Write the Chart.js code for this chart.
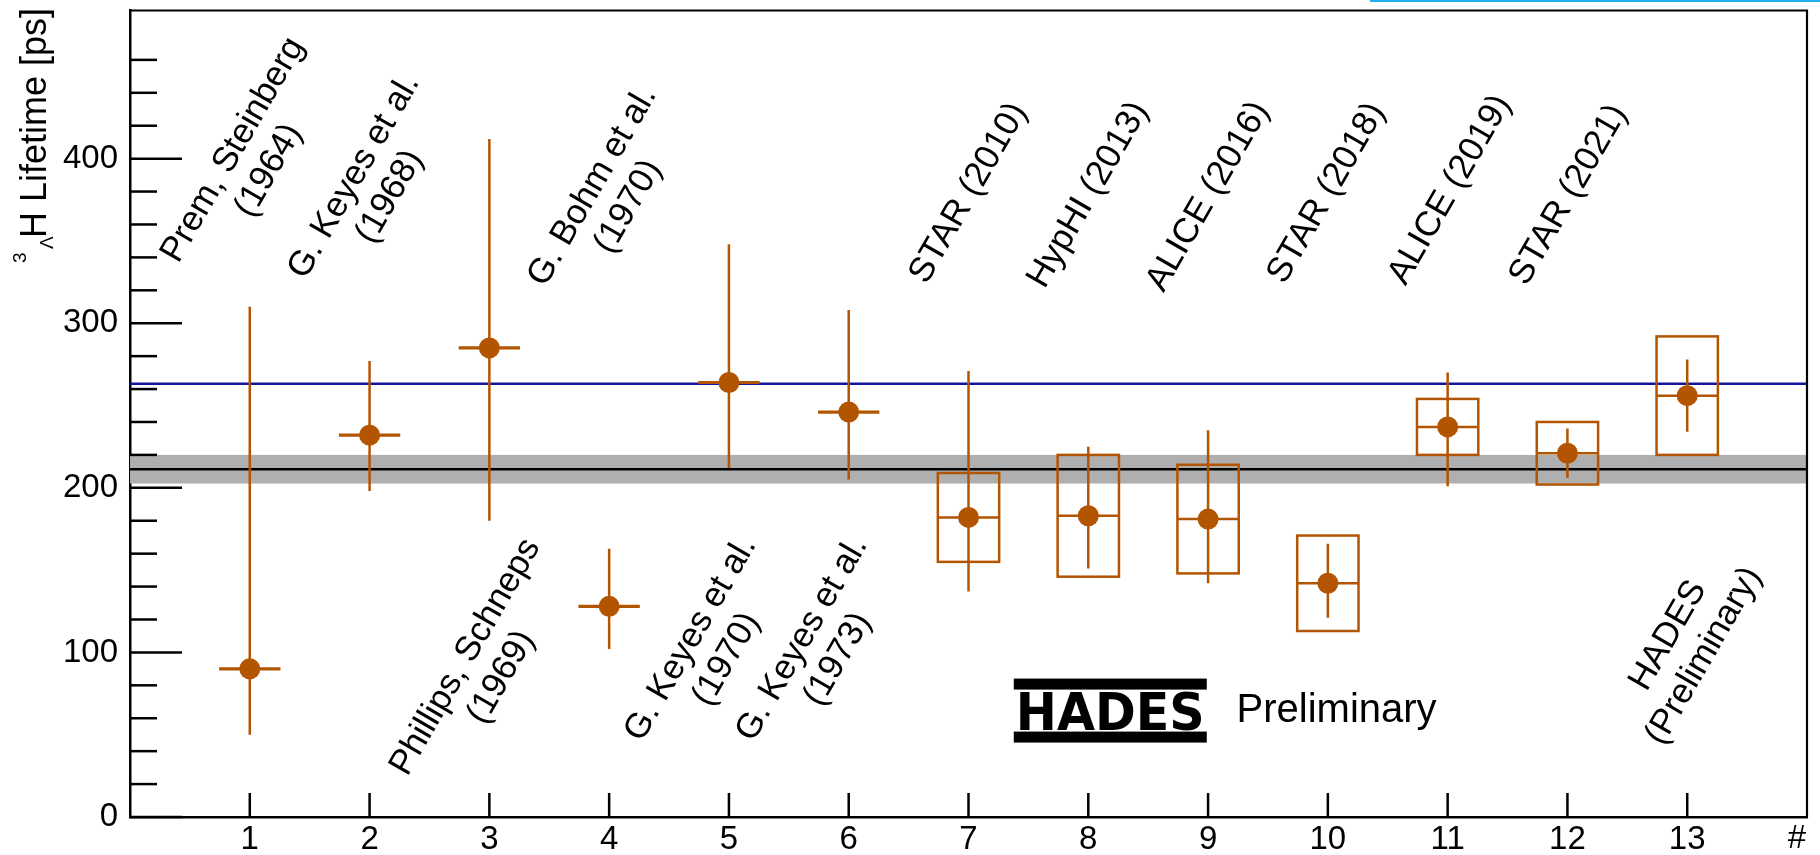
<!DOCTYPE html>
<html>
<head>
<meta charset="utf-8">
<title>Hypertriton lifetime measurements</title>
<script src="https://cdn.jsdelivr.net/npm/chart.js@4.4.1/dist/chart.umd.min.js"></script>
<style>
  html, body { margin: 0; padding: 0; background: #ffffff; }
  #wrap { width: 1820px; height: 855px; position: relative; }
  canvas { display: block; }
</style>
</head>
<body>
<div id="wrap"><canvas id="lifetimes" width="1820" height="855"></canvas></div>
<script>
// ---- measurements (ps) ----
const measurementIndex = [1, 2, 3, 4, 5, 6, 7, 8, 9, 10, 11, 12, 13];
const experiments = [
  ["Prem, Steinberg", "(1964)"],
  ["G. Keyes et al.", "(1968)"],
  ["Phillips, Schneps", "(1969)"],
  ["G. Bohm et al.", "(1970)"],
  ["G. Keyes et al.", "(1970)"],
  ["G. Keyes et al.", "(1973)"],
  ["STAR (2010)"],
  ["HypHI (2013)"],
  ["ALICE (2016)"],
  ["STAR (2018)"],
  ["ALICE (2019)"],
  ["STAR (2021)"],
  ["HADES", "(Preliminary)"]
];
const lifetime  = [90, 232, 285, 128, 264, 246, 182, 183, 181, 142, 237, 221, 256];
const statUp    = [220, 45, 127, 35, 84, 62, 89, 42, 54, 24, 33, 15, 22];
const statDown  = [40, 34, 105, 26, 52, 41, 45, 32, 39, 21, 36, 15, 22];
const systErr   = [null, null, null, null, null, null, 27, 37, 33, 29, 17, 19, 36];

// reference values (ps)
const freeLambdaLifetime = 263.2;
const worldAverage = 211.3;
const worldAverageErr = 8.7;

// axis ticks
const xTickValues = [1, 2, 3, 4, 5, 6, 7, 8, 9, 10, 11, 12, 13];
const yMajorStep = 100;
const yMinorStep = 20;

// where each experiment's caption sits (in axis units)
const captionX = [1.01, 2.02, 2.95, 4.01, 4.83, 5.76, 7.0, 8.0, 9.0, 9.99, 11.02, 12.01, 12.99];
const captionY = [399, 383, 91, 377, 102, 102, 379, 378, 377, 379, 381, 378, 104];

// ---- styling ----
const FONT = '"Liberation Sans", Arial, Helvetica, sans-serif';
const ORANGE = '#b35400';
const X_HALF = 0.256;
const CAPTION_ANGLE = 60;

Chart.defaults.font.family = FONT;
Chart.defaults.color = '#000000';

const decorations = {
  id: 'lifetimeDecorations',
  beforeDatasetsDraw(chart) {
    const { ctx, chartArea: a, scales: { x, y } } = chart;
    ctx.save();
    ctx.beginPath();
    ctx.rect(a.left, a.top, a.right - a.left, a.bottom - a.top);
    ctx.clip();

    // world-average band and central value
    const bTop = y.getPixelForValue(worldAverage + worldAverageErr);
    const bBot = y.getPixelForValue(worldAverage - worldAverageErr);
    ctx.fillStyle = '#afafaf';
    ctx.fillRect(a.left, bTop, a.right - a.left, bBot - bTop);

    ctx.lineWidth = 2.5;
    ctx.strokeStyle = '#000000';
    const yAvg = y.getPixelForValue(worldAverage);
    ctx.beginPath(); ctx.moveTo(a.left, yAvg); ctx.lineTo(a.right, yAvg); ctx.stroke();

    // free Lambda lifetime
    ctx.strokeStyle = '#14149c';
    const yFree = y.getPixelForValue(freeLambdaLifetime);
    ctx.beginPath(); ctx.moveTo(a.left, yFree); ctx.lineTo(a.right, yFree); ctx.stroke();

    // statistical error bars and systematic boxes
    ctx.strokeStyle = ORANGE;
    lifetime.forEach((v, i) => {
      const xi = measurementIndex[i];
      const px = x.getPixelForValue(xi);
      const xl = x.getPixelForValue(xi - X_HALF);
      const xr = x.getPixelForValue(xi + X_HALF);
      const py = y.getPixelForValue(v);

      ctx.lineWidth = 2.5;
      ctx.beginPath();
      ctx.moveTo(px, y.getPixelForValue(v + statUp[i]));
      ctx.lineTo(px, y.getPixelForValue(v - statDown[i]));
      ctx.stroke();

      ctx.lineWidth = systErr[i] === null ? 3.2 : 2.5;
      ctx.beginPath();
      ctx.moveTo(xl, py);
      ctx.lineTo(xr, py);
      ctx.stroke();

      if (systErr[i] !== null) {
        ctx.lineWidth = 2.5;
        const yt = y.getPixelForValue(v + systErr[i]);
        const yb = y.getPixelForValue(v - systErr[i]);
        ctx.strokeRect(xl, yt, xr - xl, yb - yt);
      }
    });
    ctx.restore();
  },
  afterDraw(chart) {
    const { ctx, chartArea: a, scales: { x, y } } = chart;
    ctx.save();

    // inward tick marks
    ctx.strokeStyle = '#000000';
    ctx.lineWidth = 2.5;
    y.ticks.forEach(t => {
      if (t.value % yMinorStep !== 0) return;
      const len = t.value % yMajorStep === 0 ? 52 : 27;
      const py = y.getPixelForValue(t.value);
      ctx.beginPath(); ctx.moveTo(a.left, py); ctx.lineTo(a.left + len, py); ctx.stroke();
    });
    x.ticks.forEach(t => {
      if (!xTickValues.includes(t.value)) return;
      const px = x.getPixelForValue(t.value);
      ctx.beginPath(); ctx.moveTo(px, a.bottom); ctx.lineTo(px, a.bottom - 24); ctx.stroke();
    });

    // top and right frame
    ctx.lineWidth = 2.2;
    ctx.beginPath();
    ctx.moveTo(a.left, a.top);
    ctx.lineTo(a.right, a.top);
    ctx.lineTo(a.right, a.bottom);
    ctx.stroke();

    // experiment captions
    ctx.fillStyle = '#000000';
    ctx.font = '35px ' + FONT;
    ctx.textAlign = 'center';
    ctx.textBaseline = 'middle';
    experiments.forEach((lines, i) => {
      const cx = x.getPixelForValue(captionX[i]);
      const cy = y.getPixelForValue(captionY[i]);
      ctx.save();
      ctx.translate(cx, cy);
      ctx.rotate(-CAPTION_ANGLE * Math.PI / 180);
      const step = 41;
      lines.forEach((s, k) => {
        ctx.fillText(s, 0, (k - (lines.length - 1) / 2) * step);
      });
      ctx.restore();
    });

    // HADES logo + Preliminary
    const lx = x.getPixelForValue(7.378);
    const ly = y.getPixelForValue(84.1);
    const lw = 193;
    ctx.fillStyle = '#000000';
    ctx.fillRect(lx, ly, lw, 11);
    ctx.fillRect(lx, ly + 53, lw, 11);
    ctx.font = 'bold 51px "DejaVu Sans", ' + FONT;
    ctx.textAlign = 'left';
    ctx.textBaseline = 'alphabetic';
    const w = ctx.measureText('HADES').width;
    ctx.save();
    ctx.translate(lx + 2, ly + 51);
    ctx.scale(189 / w, 1);
    ctx.fillText('HADES', 0, 0);
    ctx.restore();

    ctx.font = '40px ' + FONT;
    ctx.fillText('Preliminary', x.getPixelForValue(9.238), y.getPixelForValue(57.7));

    // axis label at the end of the x axis
    ctx.font = '33px ' + FONT;
    ctx.textAlign = 'right';
    ctx.textBaseline = 'middle';
    ctx.fillText('#', a.right - 1, a.bottom + 22);

    // y-axis title
    ctx.save();
    ctx.translate(46, 238);
    ctx.rotate(-Math.PI / 2);
    ctx.textAlign = 'left';
    ctx.textBaseline = 'alphabetic';
    ctx.font = '36px ' + FONT;
    ctx.fillText('H Lifetime [ps]', 0, 0);
    ctx.font = '19px ' + FONT;
    ctx.fillText('3', -25, -20);
    ctx.fillText('\u039B', -11, 7);
    ctx.restore();

    ctx.restore();

    // thin cyan rule along the top edge
    ctx.fillStyle = '#1cb0ee';
    ctx.fillRect(1370, 0, 450, 2);
  }
};

const noScalePadding = s => {
  s.paddingTop = 0; s.paddingBottom = 0; s.paddingLeft = 0; s.paddingRight = 0;
};

new Chart(document.getElementById('lifetimes'), {
  type: 'scatter',
  data: {
    datasets: [{
      label: 'lifetime',
      data: lifetime.map((v, i) => ({ x: measurementIndex[i], y: v })),
      backgroundColor: ORANGE,
      borderWidth: 0,
      pointRadius: 10.5,
      pointHoverRadius: 10.5,
      pointStyle: 'circle'
    }]
  },
  options: {
    responsive: false,
    animation: false,
    devicePixelRatio: 1,
    events: [],
    layout: { padding: { left: 0, top: 7, right: 13, bottom: 0 } },
    plugins: { legend: { display: false }, tooltip: { enabled: false } },
    scales: {
      x: {
        type: 'linear',
        min: 0,
        max: 14,
        grid: { display: false, drawTicks: false },
        border: { display: true, color: '#000000', width: 2.5 },
        ticks: {
          stepSize: 1,
          autoSkip: false,
          maxRotation: 0,
          padding: 3,
          font: { size: 33 },
          color: '#000000',
          callback: v => (xTickValues.includes(v) ? String(v) : '')
        },
        afterFit: s => { s.height = 38; noScalePadding(s); }
      },
      y: {
        type: 'linear',
        min: 0,
        max: 490,
        grid: { display: false, drawTicks: false },
        border: { display: true, color: '#000000', width: 2.5 },
        ticks: {
          stepSize: yMinorStep,
          autoSkip: false,
          padding: 12,
          font: { size: 33 },
          color: '#000000',
          callback: v => (v % yMajorStep === 0 ? String(v) : '')
        },
        afterFit: s => { s.width = 130; noScalePadding(s); }
      }
    }
  },
  plugins: [decorations]
});
</script>
</body>
</html>
